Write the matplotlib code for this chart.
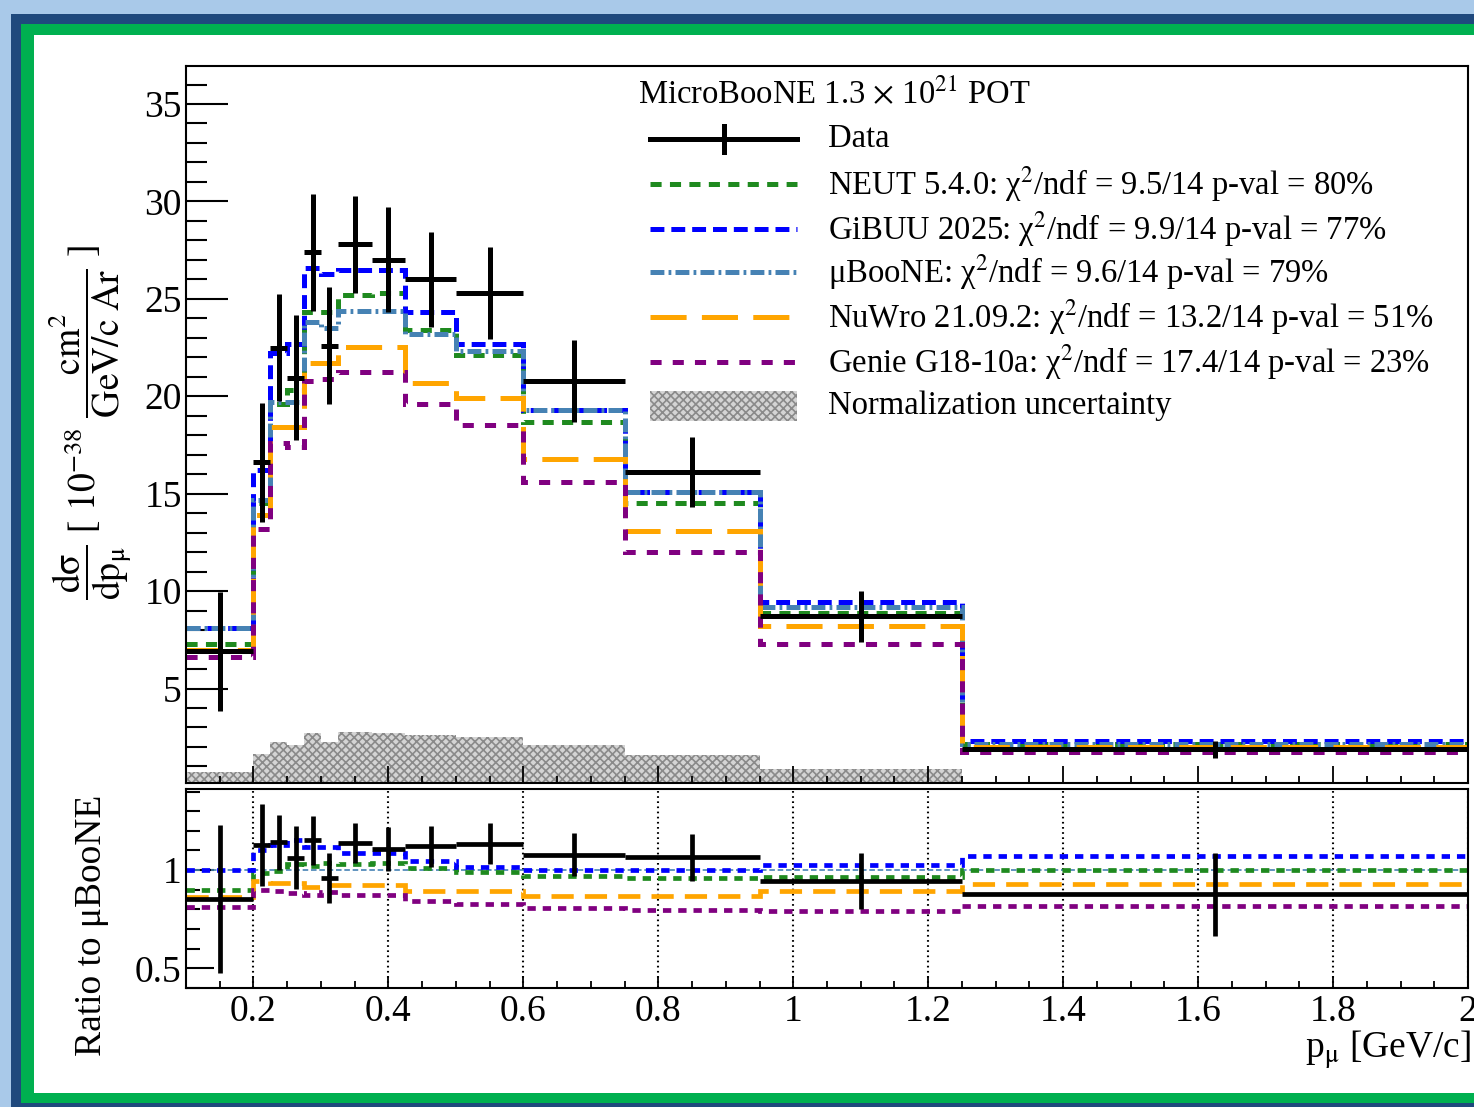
import matplotlib
matplotlib.use("Agg")
import matplotlib.pyplot as plt
import numpy as np
from matplotlib.patches import Rectangle
from matplotlib.lines import Line2D
from matplotlib.ticker import MultipleLocator, FuncFormatter

plt.rcParams['font.family'] = ['Liberation Serif', 'DejaVu Serif']
plt.rcParams['mathtext.fontset'] = 'stix'
plt.rcParams['lines.scale_dashes'] = False
plt.rcParams['hatch.linewidth'] = 1.2

# muon momentum bins [GeV/c]
edges = np.array([0.1, 0.2, 0.225, 0.25, 0.275, 0.3, 0.325, 0.375, 0.425,
                  0.5, 0.6, 0.75, 0.95, 1.25, 2.0])

# measured cross section [1e-38 cm2 / (GeV/c Ar)]
data = [6.9, 16.6, 22.5, 20.96, 27.4, 22.6, 27.8, 27.0, 26.0, 25.3, 20.8, 16.1, 8.7, 1.87]
data_err = [3.05, 3.05, 2.75, 3.2, 3.0, 3.0, 2.5, 2.7, 2.45, 2.35, 2.1, 1.8, 1.3, 0.45]
norm_unc = [0.69, 1.66, 2.25, 2.1, 2.74, 2.26, 2.78, 2.7, 2.6, 2.53, 2.08, 1.61, 0.87, 0.19]

# generator predictions
neut = [7.3, 14.5, 19.6, 20.3, 24.3, 24.3, 25.2, 25.3, 23.4, 22.1, 18.7, 14.5, 8.9, 2.13]
gibuu = [8.1, 16.2, 22.2, 22.7, 26.6, 26.3, 26.5, 26.5, 24.3, 22.7, 19.3, 15.1, 9.45, 2.28]
uboone = [8.1, 14.7, 19.7, 19.7, 23.8, 23.5, 24.4, 24.4, 23.2, 22.3, 19.3, 15.1, 9.2, 2.13]
nuwro = [7.0, 13.9, 18.4, 18.4, 21.7, 21.7, 22.55, 22.55, 20.7, 19.9, 16.8, 13.1, 8.2, 1.98]
genie = [6.6, 13.2, 17.6, 17.4, 20.8, 20.9, 21.27, 21.27, 19.6, 18.5, 15.6, 12.0, 7.3, 1.74]

labels = ["NEUT 5.4.0: χ$^{2}$/ndf = 9.5/14 p-val = 80%",
          "GiBUU 2025: χ$^{2}$/ndf = 9.9/14 p-val = 77%",
          "μBooNE: χ$^{2}$/ndf = 9.6/14 p-val = 79%",
          "NuWro 21.09.2: χ$^{2}$/ndf = 13.2/14 p-val = 51%",
          "Genie G18-10a: χ$^{2}$/ndf = 17.4/14 p-val = 23%"]

models = [neut, gibuu, uboone, nuwro, genie]
colors = ['#1f8a1f', '#0000ff', '#4682b4', '#ffa500', '#800080']
styles = [(0, (8, 6)), (0, (10, 5)), (0, (10, 3, 2, 3)), (0, (26, 11)), (0, (8, 8))]
rstyles = [(0, (6, 5)), (0, (6, 5)), (0, (4, 2)), (0, (16, 8)), (0, (6, 5))]

W, H = 1474, 1107
def fx(p): return p / W
def fy(p): return 1 - p / H

fig = plt.figure(figsize=(W / 100, H / 100), dpi=100, facecolor='#a9c9e9')
# slide frame
fig.add_artist(Rectangle((fx(11), 0), 1, fy(14), transform=fig.transFigure,
                         facecolor='#1f497d', edgecolor='none', zorder=-3))
fig.add_artist(Rectangle((fx(21), fy(1103)), 1, fy(24) - fy(1103), transform=fig.transFigure,
                         facecolor='#00b050', edgecolor='none', zorder=-2))
fig.add_artist(Rectangle((fx(34), fy(1093)), 1, fy(35) - fy(1093), transform=fig.transFigure,
                         facecolor='white', edgecolor='none', zorder=-1))

ax = fig.add_axes([fx(186), fy(783), fx(1468) - fx(186), fy(66) - fy(783)])
axr = fig.add_axes([fx(186), fy(988), fx(1468) - fx(186), fy(789) - fy(988)])

centers = 0.5 * (edges[1:] + edges[:-1])
halfw = 0.5 * np.diff(edges)
lw = 3.6

# upper panel
ax.bar(edges[:-1], norm_unc, width=np.diff(edges), align='edge',
       facecolor='#d4d4d4', edgecolor='#8a8a8a', hatch='xxxx', linewidth=0, zorder=1)
for vals, c, ls in zip(models, colors, styles):
    ax.stairs(vals, edges, baseline=None, color=c, linestyle=ls, linewidth=lw, zorder=2)
ax.errorbar(centers, data, xerr=halfw, yerr=data_err, fmt='none', ecolor='black',
            elinewidth=3.6, capsize=0, zorder=3)

ax.set_xlim(0.1, 2.0)
ax.set_ylim(0.15, 36.95)
ax.xaxis.set_major_locator(MultipleLocator(0.2))
ax.xaxis.set_minor_locator(MultipleLocator(0.05))
ax.yaxis.set_major_locator(MultipleLocator(5))
ax.yaxis.set_minor_locator(MultipleLocator(1))
ax.tick_params(axis='y', which='major', direction='in', length=30, width=1.5,
               labelsize=27, pad=3)
ax.tick_params(axis='y', which='minor', direction='in', length=15, width=1.5)
ax.tick_params(axis='x', which='major', direction='in', length=12, width=1.3, labelbottom=False)
ax.tick_params(axis='x', which='minor', direction='in', length=5, width=1.3)
for s in ax.spines.values():
    s.set_linewidth(1.5)

# ratio panel
ub = np.array(uboone)
axr.axhline(1.0, color='#4682b4', linestyle=(0, (4, 2)), linewidth=1.2, zorder=2)
for vals, c, ls, name in zip(models, colors, rstyles, ['neut', 'gibuu', 'uboone', 'nuwro', 'genie']):
    if name == 'uboone':
        continue
    axr.stairs(np.array(vals) / ub, edges, baseline=None, color=c, linestyle=ls,
               linewidth=3.4, zorder=2)
axr.errorbar(centers, np.array(data) / ub, xerr=halfw, yerr=np.array(data_err) / ub,
             fmt='none', ecolor='black', elinewidth=3.4, capsize=0, zorder=3)
axr.set_xlim(0.1, 2.0)
axr.set_ylim(0.4, 1.413)
axr.xaxis.set_major_locator(MultipleLocator(0.2))
axr.xaxis.set_minor_locator(MultipleLocator(0.05))
axr.yaxis.set_major_locator(MultipleLocator(0.5))
axr.yaxis.set_minor_locator(MultipleLocator(0.1))
fmt = FuncFormatter(lambda v, p: '%g' % round(v, 3))
axr.xaxis.set_major_formatter(fmt)
axr.yaxis.set_major_formatter(fmt)
axr.tick_params(axis='y', which='major', direction='in', length=20, width=1.5,
                labelsize=27, pad=3)
axr.tick_params(axis='y', which='minor', direction='in', length=10, width=1.5)
axr.tick_params(axis='x', which='major', direction='in', length=9, width=1.3,
                labelsize=27, pad=5)
axr.tick_params(axis='x', which='minor', direction='in', length=5, width=1.3)
axr.grid(axis='x', which='major', color='black', linestyle=(0, (1.2, 2.5)), linewidth=1.5)
for s in axr.spines.values():
    s.set_linewidth(1.5)

# axis titles
fig.text(fx(90), fy(422),
         r'$\dfrac{\mathrm{d\sigma}}{\mathrm{dp}_{\mathrm{\mu}}}$ [ $10^{-38}$ $\dfrac{\mathrm{cm}^{2}}{\mathrm{GeV/c\ Ar}}$ ]',
         rotation=90, ha='center', va='center', fontsize=27)
fig.text(fx(92), fy(925), 'Ratio to μBooNE', rotation=90, ha='center', va='center', fontsize=27)
fig.text(fx(1471), fy(1050), r'p$_{\mathrm{\mu}}$ [GeV/c]', ha='right', va='center', fontsize=27)

# legend
leg_fs = 23.5
fig.text(fx(638), fy(94), r'MicroBooNE 1.3 $\times$ 10$^{21}$ POT', ha='left', va='center',
         fontsize=leg_fs)
rows = [139, 184, 229, 272, 317, 362, 406]
fig.add_artist(Line2D([fx(650), fx(797)], [fy(rows[0])] * 2, transform=fig.transFigure,
                      color='black', linewidth=3.6))
fig.add_artist(Line2D([fx(723.5)] * 2, [fy(rows[0] - 13), fy(rows[0] + 13)],
                      transform=fig.transFigure, color='black', linewidth=3.6))
fig.text(fx(828), fy(rows[0]), 'Data', ha='left', va='center', fontsize=leg_fs)
for y, c, ls, lab in zip(rows[1:6], colors, styles, labels):
    fig.add_artist(Line2D([fx(650), fx(797)], [fy(y)] * 2, transform=fig.transFigure,
                          color=c, linestyle=ls, linewidth=lw))
    fig.text(fx(828), fy(y), lab, ha='left', va='center', fontsize=leg_fs)
fig.add_artist(Rectangle((fx(650), fy(rows[6] + 15)), fx(797) - fx(650), fy(rows[6] - 15) - fy(rows[6] + 15),
                         transform=fig.transFigure, facecolor='#d4d4d4', edgecolor='#8a8a8a',
                         hatch='xxxx', linewidth=0))
fig.text(fx(828), fy(rows[6]), 'Normalization uncertainty', ha='left', va='center', fontsize=leg_fs)

fig.savefig('out.png', dpi=100, facecolor=fig.get_facecolor())
